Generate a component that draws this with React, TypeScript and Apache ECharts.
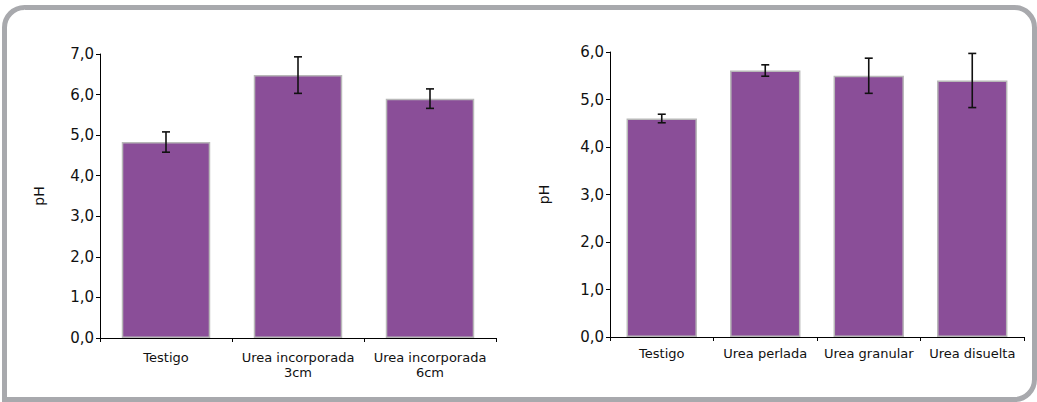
import React, { useEffect, useRef } from "react";
import * as echarts from "echarts";

const leftCategories = ["Testigo", "Urea incorporada\n3cm", "Urea incorporada\n6cm"];
const leftValues = [4.83, 6.48, 5.9];
const leftErrors = [0.25, 0.45, 0.24];

const rightCategories = ["Testigo", "Urea perlada", "Urea granular", "Urea disuelta"];
const rightValues = [4.6, 5.61, 5.5, 5.4];
const rightErrors = [0.09, 0.12, 0.37, 0.57];

const BAR_COLOR = "#8a4e98";
const BAR_BORDER = "#b8b8b8";

function errorData(values: number[], errs: number[]) {
  return values.map((v, i) => [i, v - errs[i], v + errs[i]]);
}

function renderError(params: any, api: any) {
  const x = api.value(0);
  const lo = api.coord([x, api.value(1)]);
  const hi = api.coord([x, api.value(2)]);
  const hw = 4;
  const style = { stroke: "#111", lineWidth: 1.6 };
  return {
    type: "group",
    children: [
      { type: "line", shape: { x1: hi[0], y1: hi[1], x2: lo[0], y2: lo[1] }, style },
      { type: "line", shape: { x1: hi[0] - hw, y1: hi[1], x2: hi[0] + hw, y2: hi[1] }, style },
      { type: "line", shape: { x1: lo[0] - hw, y1: lo[1], x2: lo[0] + hw, y2: lo[1] }, style },
    ],
  };
}

export default function App() {
  const ref = useRef<HTMLDivElement>(null);
  useEffect(() => {
    if (!ref.current) return;
    const chart = echarts.init(ref.current, null, { renderer: "svg" });
    const yLabel = {
      fontFamily: "DejaVu Sans",
      fontSize: 15,
      color: "#111",
      margin: 6,
      formatter: (v: number) => v.toFixed(1).replace(".", ","),
    };
    const xLabel = (margin: number) => ({
      fontFamily: "DejaVu Sans",
      fontSize: 13,
      color: "#111",
      margin,
      lineHeight: 15,
      interval: 0,
    });
    const axisLine = { lineStyle: { color: "#000", width: 1 } };
    chart.setOption({
      animation: false,
      graphic: [
        {
          type: "rect",
          shape: { x: 4.5, y: 7.5, width: 1030, height: 392, r: [20, 20, 20, 0] },
          style: { fill: "none", stroke: "#a8a9ad", lineWidth: 5 },
          z: 10,
        },
      ],
      grid: [
        { left: 100, top: 54, width: 396, height: 284 },
        { left: 610, top: 52, width: 414, height: 285 },
      ],
      xAxis: [
        {
          type: "category",
          gridIndex: 0,
          data: leftCategories,
          axisLine,
          axisTick: { show: true, length: 4, lineStyle: { color: "#000" } },
          axisLabel: xLabel(12),
        },
        {
          type: "category",
          gridIndex: 1,
          data: rightCategories,
          axisLine,
          axisTick: { show: true, length: 4, lineStyle: { color: "#000" } },
          axisLabel: xLabel(9),
        },
      ],
      yAxis: [
        {
          type: "value",
          gridIndex: 0,
          min: 0,
          max: 7,
          interval: 1,
          name: "pH",
          nameLocation: "middle",
          nameGap: 54,
          nameTextStyle: { fontFamily: "DejaVu Sans", fontSize: 14, color: "#111" },
          axisLine: { show: true, ...axisLine },
          axisTick: { show: true, length: 4, lineStyle: { color: "#000" } },
          splitLine: { show: false },
          axisLabel: yLabel,
        },
        {
          type: "value",
          gridIndex: 1,
          min: 0,
          max: 6,
          interval: 1,
          name: "pH",
          nameLocation: "middle",
          nameGap: 59,
          nameTextStyle: { fontFamily: "DejaVu Sans", fontSize: 14, color: "#111" },
          axisLine: { show: true, ...axisLine },
          axisTick: { show: true, length: 4, lineStyle: { color: "#000" } },
          splitLine: { show: false },
          axisLabel: yLabel,
        },
      ],
      series: [
        {
          type: "bar",
          xAxisIndex: 0,
          yAxisIndex: 0,
          data: leftValues,
          barCategoryGap: "33%",
          itemStyle: { color: BAR_COLOR, borderColor: BAR_BORDER, borderWidth: 1.5 },
        },
        {
          type: "custom",
          xAxisIndex: 0,
          yAxisIndex: 0,
          data: errorData(leftValues, leftErrors),
          encode: { x: 0, y: [1, 2] },
          renderItem: renderError,
          z: 5,
        },
        {
          type: "bar",
          xAxisIndex: 1,
          yAxisIndex: 1,
          data: rightValues,
          barCategoryGap: "32%",
          itemStyle: { color: BAR_COLOR, borderColor: BAR_BORDER, borderWidth: 1.5 },
        },
        {
          type: "custom",
          xAxisIndex: 1,
          yAxisIndex: 1,
          data: errorData(rightValues, rightErrors),
          encode: { x: 0, y: [1, 2] },
          renderItem: renderError,
          z: 5,
        },
      ],
    });
    return () => chart.dispose();
  }, []);
  return (
    <div
      ref={ref}
      style={{ position: "fixed", left: 0, top: 0, width: 1037, height: 402, background: "#fff" }}
    />
  );
}
